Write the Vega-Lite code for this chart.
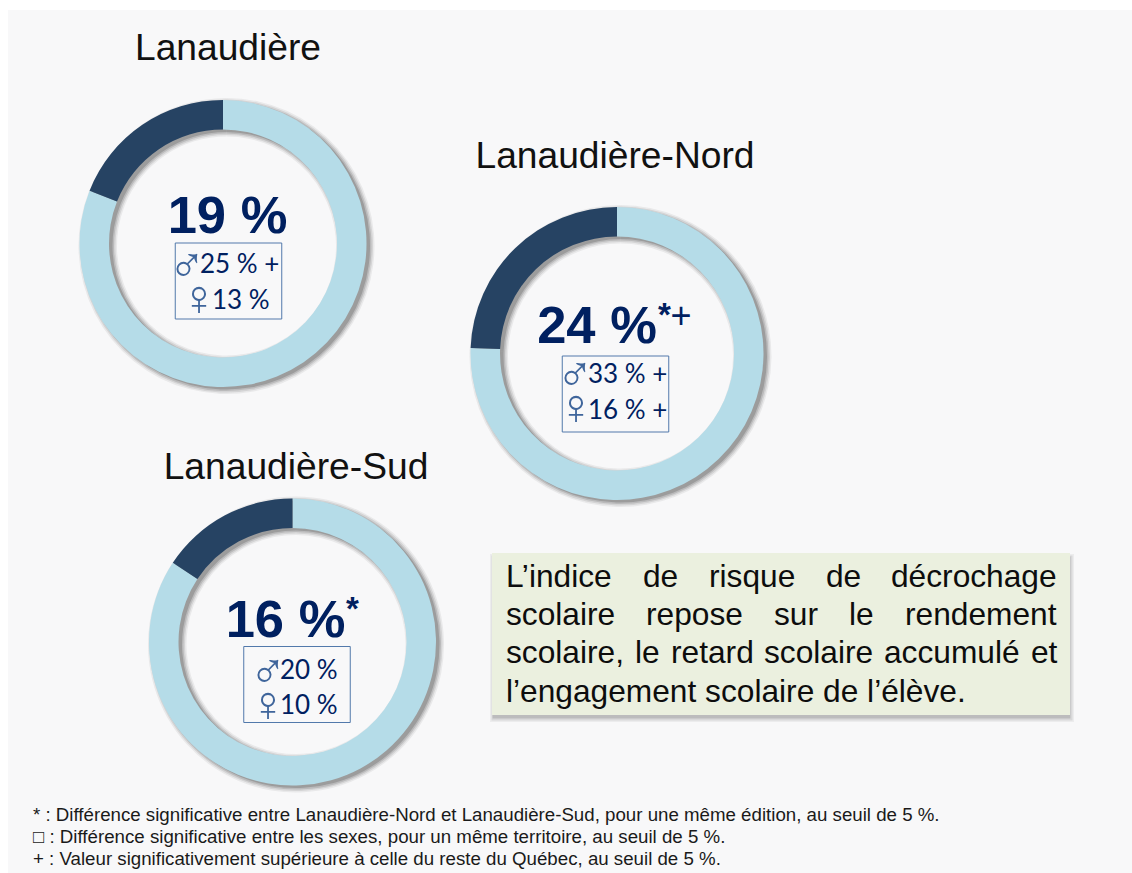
{"$schema":"https://vega.github.io/schema/vega-lite/v6.json","width":1124,"height":863,"autosize":"none","padding":{"left":8,"top":10,"right":0,"bottom":0},"background":"#ffffff","view":{"fill":"#f8f8f9","stroke":null},
"datasets":{
"anneaux":[{"territoire":"Lanaudière","rang":1,"categorie":"Autres","debut":0,"fin":81},{"territoire":"Lanaudière","rang":1,"categorie":"À risque","debut":81,"fin":100},{"territoire":"Lanaudière-Nord","rang":2,"categorie":"Autres","debut":0,"fin":75.6},{"territoire":"Lanaudière-Nord","rang":2,"categorie":"À risque","debut":75.6,"fin":100},{"territoire":"Lanaudière-Sud","rang":3,"categorie":"Autres","debut":0,"fin":84.3},{"territoire":"Lanaudière-Sud","rang":3,"categorie":"À risque","debut":84.3,"fin":100}],
"territoires":[{"territoire":"Lanaudière","rang":1,"taux":"19 %"},{"territoire":"Lanaudière-Nord","rang":2,"taux":"24 %"},{"territoire":"Lanaudière-Sud","rang":3,"taux":"16 %"}],
"exposants":[{"texte":"*","rang":1},{"texte":"+","rang":2},{"texte":"*","rang":3}],
"sexes":[{"territoire":"Lanaudière","sexe":"♂","valeur":"25 % +","rang":1},{"territoire":"Lanaudière","sexe":"♀","valeur":"13 %","rang":2},{"territoire":"Lanaudière-Nord","sexe":"♂","valeur":"33 % +","rang":3},{"territoire":"Lanaudière-Nord","sexe":"♀","valeur":"16 % +","rang":4},{"territoire":"Lanaudière-Sud","sexe":"♂","valeur":"20 %","rang":5},{"territoire":"Lanaudière-Sud","sexe":"♀","valeur":"10 %","rang":6}],
"encadre":[{"rang":1}],
"mots":[{"mot":"L’indice","rang":1,"ligne":1},{"mot":"de","rang":2,"ligne":1},{"mot":"risque","rang":3,"ligne":1},{"mot":"de","rang":4,"ligne":1},{"mot":"décrochage","rang":5,"ligne":1},{"mot":"scolaire","rang":6,"ligne":2},{"mot":"repose","rang":7,"ligne":2},{"mot":"sur","rang":8,"ligne":2},{"mot":"le","rang":9,"ligne":2},{"mot":"rendement","rang":10,"ligne":2},{"mot":"scolaire,","rang":11,"ligne":3},{"mot":"le","rang":12,"ligne":3},{"mot":"retard","rang":13,"ligne":3},{"mot":"scolaire","rang":14,"ligne":3},{"mot":"accumulé","rang":15,"ligne":3},{"mot":"et","rang":16,"ligne":3},{"mot":"l’engagement scolaire de l’élève.","rang":17,"ligne":4}],
"notes":[{"ligne":1,"note":"* : Différence significative entre Lanaudière-Nord et Lanaudière-Sud, pour une même édition, au seuil de 5 %."},{"ligne":2,"note":"□ : Différence significative entre les sexes, pour un même territoire, au seuil de 5 %."},{"ligne":3,"note":"+ : Valeur significativement supérieure à celle du reste du Québec, au seuil de 5 %."}]
},
"resolve":{"scale":{"x":"independent","y":"independent"}},
"layer":[
{"data":{"name":"anneaux"},
 "encoding":{
  "x":{"field":"rang","type":"quantitative","axis":null,"scale":{"domain":[1,2,3],"range":[215,609,284.5],"zero":false,"nice":false}},
  "y":{"field":"rang","type":"quantitative","axis":null,"scale":{"domain":[1,2,3],"range":[233.5,343.5,632],"zero":false,"nice":false}},
  "theta":{"field":"debut","type":"quantitative","scale":{"domain":[0,100],"range":[0,6.283185]}},
  "theta2":{"field":"fin"}},
 "layer":[
  {"transform":[{"filter":"datum.rang != 2"}],"mark":{"type":"arc","radius":148,"innerRadius":109.5,"xOffset":3.5,"yOffset":2.5,"fill":"#555555","opacity":0.09}},
  {"transform":[{"filter":"datum.rang != 2"}],"mark":{"type":"arc","radius":146.5,"innerRadius":111,"xOffset":3.5,"yOffset":2.5,"fill":"#555555","opacity":0.14}},
  {"transform":[{"filter":"datum.rang != 2"}],"mark":{"type":"arc","radius":145,"innerRadius":112.5,"xOffset":3.5,"yOffset":2.5,"fill":"#555555","opacity":0.2}},
  {"transform":[{"filter":"datum.rang != 2"}],"mark":{"type":"arc","radius":143.5,"innerRadius":114,"xOffset":3.5,"yOffset":2.5,"fill":"#555555","opacity":0.3}},
  {"transform":[{"filter":"datum.rang == 2"}],"mark":{"type":"arc","radius":151,"innerRadius":112.5,"xOffset":3.5,"yOffset":2.5,"fill":"#555555","opacity":0.09}},
  {"transform":[{"filter":"datum.rang == 2"}],"mark":{"type":"arc","radius":149.5,"innerRadius":114,"xOffset":3.5,"yOffset":2.5,"fill":"#555555","opacity":0.14}},
  {"transform":[{"filter":"datum.rang == 2"}],"mark":{"type":"arc","radius":148,"innerRadius":115.5,"xOffset":3.5,"yOffset":2.5,"fill":"#555555","opacity":0.2}},
  {"transform":[{"filter":"datum.rang == 2"}],"mark":{"type":"arc","radius":146.5,"innerRadius":117,"xOffset":3.5,"yOffset":2.5,"fill":"#555555","opacity":0.3}},
  {"transform":[{"filter":"datum.rang != 2"}],"mark":{"type":"arc","radius":143.5,"innerRadius":114},"encoding":{"color":{"field":"categorie","type":"nominal","legend":null,"scale":{"domain":["Autres","À risque"],"range":["#b5dce8","#264363"]}}}},
  {"transform":[{"filter":"datum.rang == 2"}],"mark":{"type":"arc","radius":146.5,"innerRadius":117},"encoding":{"color":{"field":"categorie","type":"nominal","legend":null,"scale":{"domain":["Autres","À risque"],"range":["#b5dce8","#264363"]}}}}
 ]},
{"data":{"name":"territoires"},"mark":{"type":"text","font":"Liberation Sans","fontSize":37.2,"align":"center","baseline":"alphabetic","fill":"#111111"},
 "encoding":{"text":{"field":"territoire"},
  "x":{"field":"rang","type":"quantitative","axis":null,"scale":{"domain":[1,2,3],"range":[220,607,288],"zero":false,"nice":false}},
  "y":{"field":"rang","type":"quantitative","axis":null,"scale":{"domain":[1,2,3],"range":[50,158,469],"zero":false,"nice":false}}}},
{"data":{"name":"territoires"},"mark":{"type":"text","font":"Liberation Sans","fontSize":52.5,"fontWeight":"bold","align":"center","baseline":"alphabetic","fill":"#002060"},
 "encoding":{"text":{"field":"taux"},
  "x":{"field":"rang","type":"quantitative","axis":null,"scale":{"domain":[1,2,3],"range":[219.5,589,277.5],"zero":false,"nice":false}},
  "y":{"field":"rang","type":"quantitative","axis":null,"scale":{"domain":[1,2,3],"range":[223,333,627],"zero":false,"nice":false}}}},
{"data":{"name":"exposants"},"transform":[{"filter":"datum.texte == '*'"}],"mark":{"type":"text","font":"Liberation Sans","fontSize":33,"fontWeight":"bold","align":"left","baseline":"alphabetic","fill":"#002060"},
 "encoding":{"text":{"field":"texte"},
  "x":{"field":"rang","type":"quantitative","axis":null,"scale":{"domain":[1,3],"range":[650,338],"zero":false,"nice":false}},
  "y":{"field":"rang","type":"quantitative","axis":null,"scale":{"domain":[1,3],"range":[316,610],"zero":false,"nice":false}}}},
{"data":{"name":"exposants"},"transform":[{"filter":"datum.texte == '+'"}],"mark":{"type":"text","font":"Liberation Sans","fontSize":36,"align":"left","baseline":"alphabetic","fill":"#002060"},
 "encoding":{"text":{"field":"texte"},
  "x":{"field":"rang","type":"quantitative","axis":null,"scale":{"domain":[2,3],"range":[662.5,663.5],"zero":false,"nice":false}},
  "y":{"field":"rang","type":"quantitative","axis":null,"scale":{"domain":[2,3],"range":[318,319],"zero":false,"nice":false}}}},
{"data":{"name":"territoires"},"mark":{"type":"rect","width":106.5,"height":76,"fill":null,"fillOpacity":0,"stroke":"#5279ab","strokeWidth":1},
 "encoding":{
  "x":{"field":"rang","type":"quantitative","axis":null,"scale":{"domain":[1,2,3],"range":[220.5,607.5,289],"zero":false,"nice":false}},
  "y":{"field":"rang","type":"quantitative","axis":null,"scale":{"domain":[1,2,3],"range":[271,384,674.5],"zero":false,"nice":false}}}},
{"data":{"name":"sexes"},"mark":{"type":"text","font":"Liberation Sans","fontSize":50,"align":"center","baseline":"alphabetic","fill":"#3f659b"},
 "encoding":{"text":{"field":"sexe"},
  "x":{"field":"rang","type":"quantitative","axis":null,"scale":{"domain":[1,2,3,4,5,6],"range":[179,191,567,568,260,260],"zero":false,"nice":false}},
  "y":{"field":"rang","type":"quantitative","axis":null,"scale":{"domain":[1,2,3,4,5,6],"range":[271.5,305,380.5,414,677.5,711],"zero":false,"nice":false}}}},
{"data":{"name":"sexes"},"mark":{"type":"text","font":"Lato","fontSize":26,"align":"left","baseline":"alphabetic","fill":"#002060"},
 "encoding":{"text":{"field":"valeur"},
  "x":{"field":"rang","type":"quantitative","axis":null,"scale":{"domain":[1,2,3,4,5,6],"range":[192,204,580,580,272,272],"zero":false,"nice":false}},
  "y":{"field":"rang","type":"quantitative","axis":null,"scale":{"domain":[1,2,3,4,5,6],"range":[263,299,373,409,669,704],"zero":false,"nice":false}}}},
{"data":{"name":"encadre"},"mark":{"type":"rect","width":584,"height":168,"fill":"#8a8a8a","opacity":0.1},
 "encoding":{
  "x":{"field":"rang","type":"quantitative","axis":null,"scale":{"domain":[1,2],"range":[774,775],"zero":false,"nice":false}},
  "y":{"field":"rang","type":"quantitative","axis":null,"scale":{"domain":[1,2],"range":[628,629],"zero":false,"nice":false}}}},
{"data":{"name":"encadre"},"mark":{"type":"rect","width":581,"height":165,"fill":"#8a8a8a","opacity":0.2},
 "encoding":{
  "x":{"field":"rang","type":"quantitative","axis":null,"scale":{"domain":[1,2],"range":[774,775],"zero":false,"nice":false}},
  "y":{"field":"rang","type":"quantitative","axis":null,"scale":{"domain":[1,2],"range":[628,629],"zero":false,"nice":false}}}},
{"data":{"name":"encadre"},"mark":{"type":"rect","width":578,"height":162,"fill":"#8a8a8a","opacity":0.35},
 "encoding":{
  "x":{"field":"rang","type":"quantitative","axis":null,"scale":{"domain":[1,2],"range":[773.5,774.5],"zero":false,"nice":false}},
  "y":{"field":"rang","type":"quantitative","axis":null,"scale":{"domain":[1,2],"range":[627.5,628.5],"zero":false,"nice":false}}}},
{"data":{"name":"encadre"},"mark":{"type":"rect","width":578,"height":162,"fill":"#ebf0df"},
 "encoding":{
  "x":{"field":"rang","type":"quantitative","axis":null,"scale":{"domain":[1,2],"range":[773,774],"zero":false,"nice":false}},
  "y":{"field":"rang","type":"quantitative","axis":null,"scale":{"domain":[1,2],"range":[624,625],"zero":false,"nice":false}}}},
{"data":{"name":"mots"},"mark":{"type":"text","font":"Liberation Sans","fontSize":31.7,"align":"left","baseline":"alphabetic","fill":"#0d0d0d"},
 "encoding":{"text":{"field":"mot"},
  "x":{"field":"rang","type":"quantitative","axis":null,"scale":{"domain":[1,2,3,4,5,6,7,8,9,10,11,12,13,14,15,16,17],"range":[498,635,701,818,883,498,638,766,841,897,498,627,663,756,876,1023,498],"zero":false,"nice":false}},
  "y":{"field":"ligne","type":"quantitative","axis":null,"scale":{"domain":[1,2,3,4],"range":[577,615,653,692],"zero":false,"nice":false}}}},
{"data":{"name":"notes"},"mark":{"type":"text","font":"Liberation Sans","fontSize":18.7,"align":"left","baseline":"alphabetic","fill":"#1a1a1a"},
 "encoding":{"text":{"field":"note"},
  "x":{"field":"ligne","type":"quantitative","axis":null,"scale":{"domain":[1,3],"range":[25,25],"zero":false,"nice":false}},
  "y":{"field":"ligne","type":"quantitative","axis":null,"scale":{"domain":[1,2,3],"range":[811,833,855],"zero":false,"nice":false}}}}
]}
